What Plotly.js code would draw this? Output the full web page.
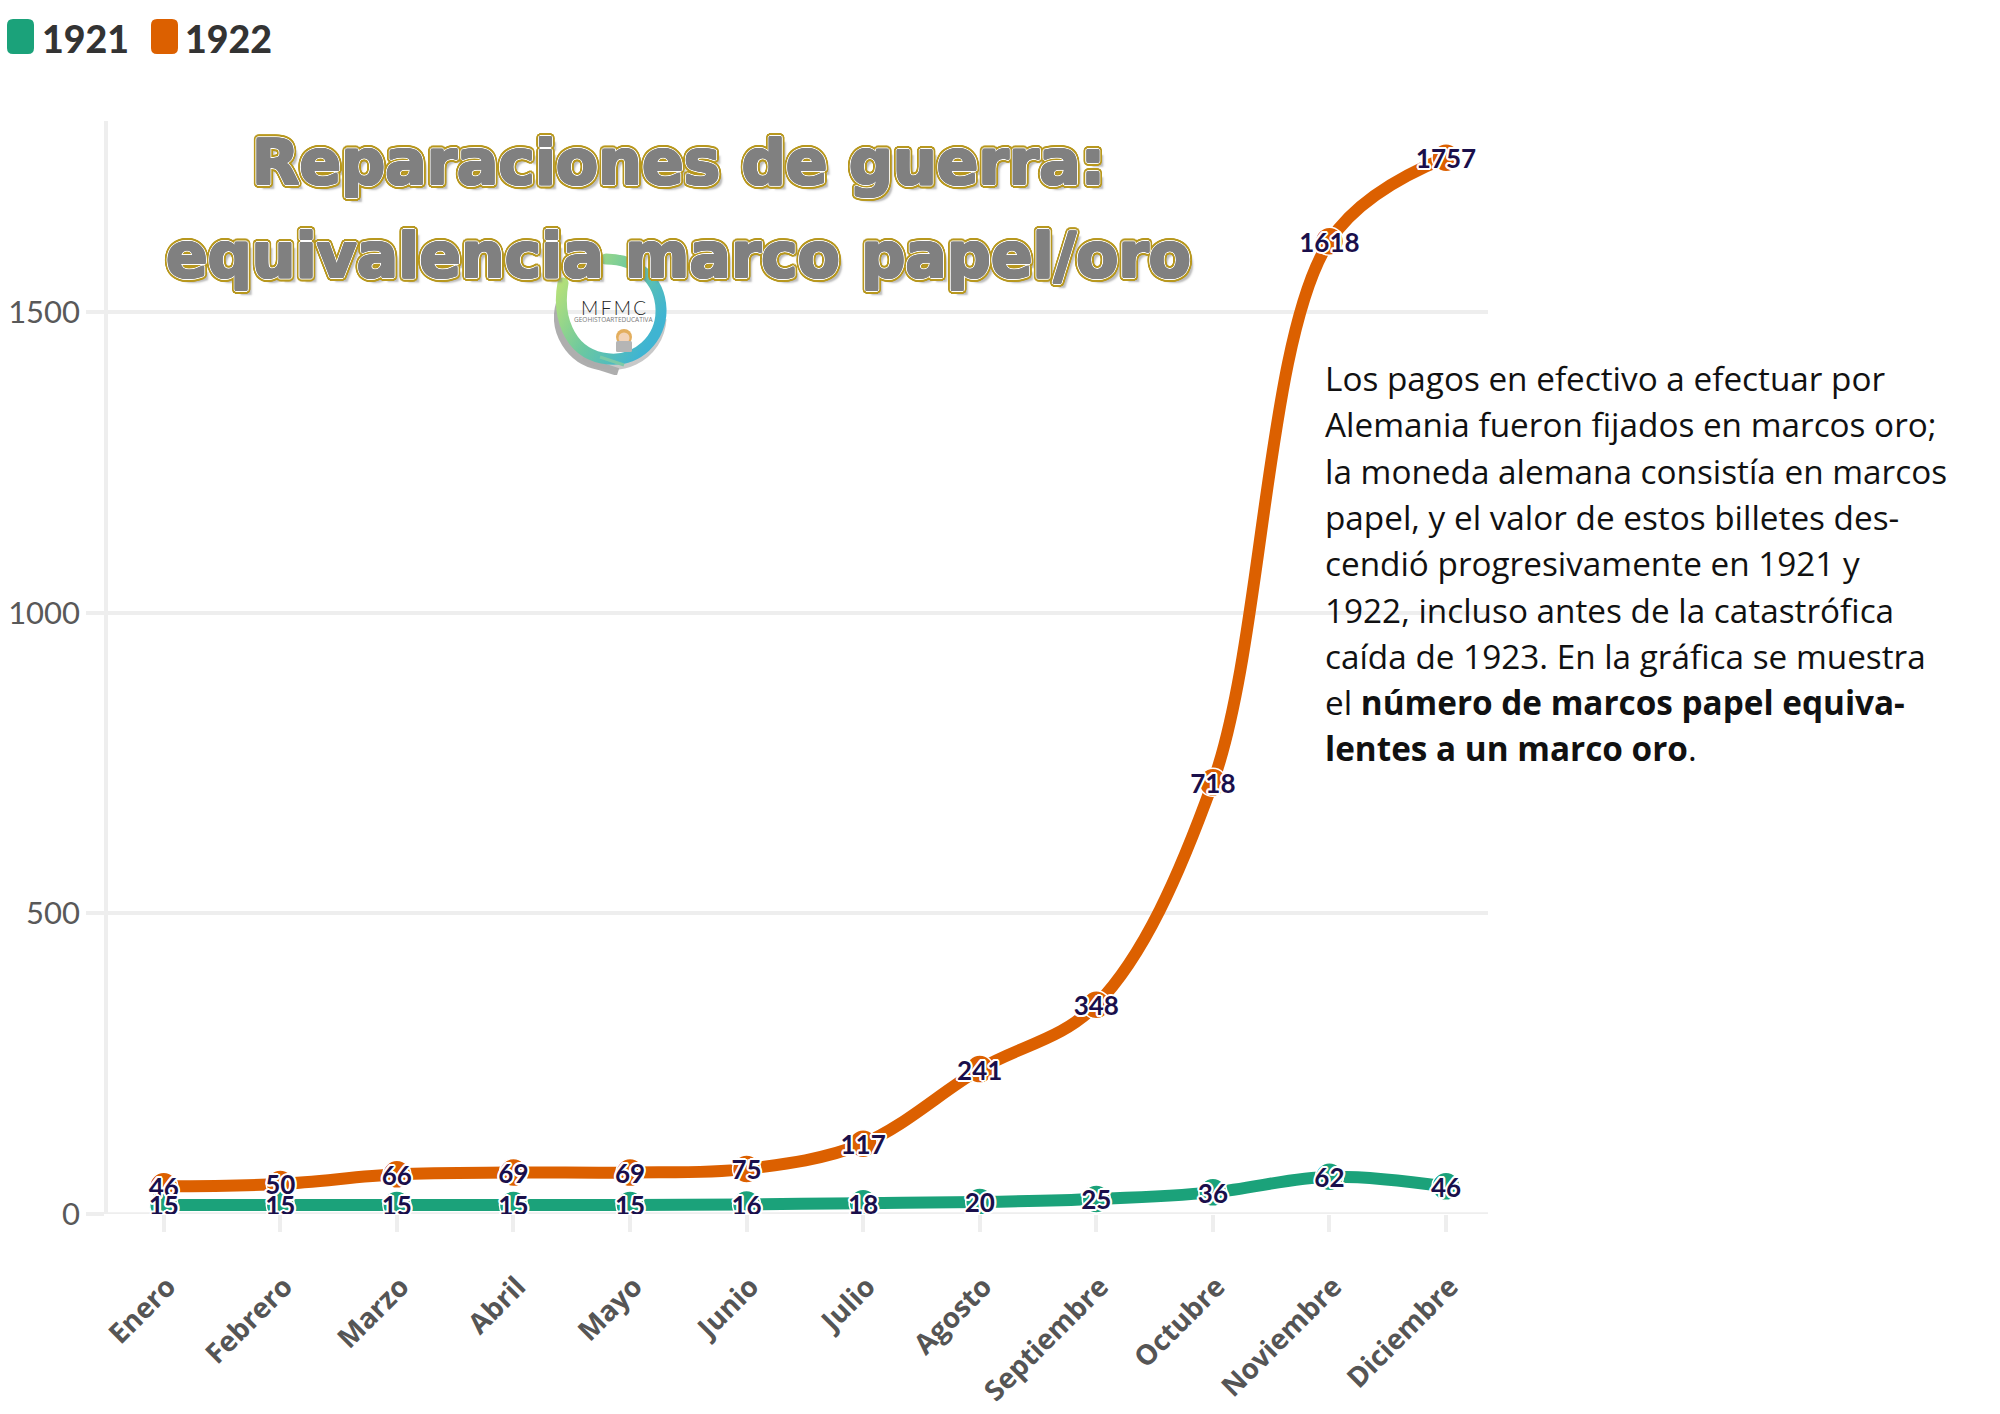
<!DOCTYPE html>
<html>
<head>
<meta charset="utf-8">
<script src="https://cdn.plot.ly/plotly-3.0.1.min.js"></script>
<style>html,body{margin:0;padding:0;background:#fff}#c{width:2000px;height:1414px}</style>
</head>
<body>
<div id="c"></div>
<script>
const months = ["Enero","Febrero","Marzo","Abril","Mayo","Junio","Julio","Agosto","Septiembre","Octubre","Noviembre","Diciembre"];
const values1921 = [15,15,15,15,15,16,18,20,25,36,62,46];
const values1922 = [46,50,66,69,69,75,117,241,348,718,1618,1757];
const seriesNames = ["1921","1922"];
const seriesColors = ["#1ba27a","#dc6000"];
const yTicks = [0,500,1000,1500];
const titleLines = ["Reparaciones de guerra:","equivalencia marco papel/oro"];
const bodyLines = [
  "Los pagos en efectivo a efectuar por",
  "Alemania fueron fijados en marcos oro;",
  "la moneda alemana consistía en marcos",
  "papel, y el valor de estos billetes des-",
  "cendió progresivamente en 1921 y",
  "1922, incluso antes de la catastrófica",
  "caída de 1923. En la gráfica se muestra",
  "el <b>número de marcos papel equiva-</b>",
  "<b>lentes a un marco oro</b>."
];

const W=2000,H=1414,L=108,R=1488,T=121,B=1214;
const px=x=>(x-L)/(R-L), py=y=>(B-y)/(B-T);

function ring(r,color,n){
  const a=[];
  for(let i=0;i<n;i++){const t=2*Math.PI*i/n;a.push((r*Math.cos(t)).toFixed(2)+"px "+(r*Math.sin(t)).toFixed(2)+"px 0 "+color);}
  return a;
}
const titleShadow=[].concat(ring(1.1,"#808080",10),ring(1.9,"#ffffff",14),ring(3,"#b8981f",20),ring(3.7,"#b8981f",24),["5px 5px 2px rgba(120,120,120,.5)"]).join(",");
const labelShadow=ring(2,"#ffffff",12).join(",");

function trace(name,vals,color){
  return {type:"scatter",mode:"lines+markers",name:name,x:months,y:vals,
    line:{color:color,width:12,shape:"spline",smoothing:1},
    marker:{color:color,size:28,line:{color:"#ffffff",width:1.5}},
    hoverinfo:"x+y"};
}
function labels(name,vals){
  return {type:"scatter",mode:"text",name:name,x:months,y:vals,
    text:vals.map(String),textposition:"middle center",
    textfont:{family:"Lato",size:26,weight:700,color:"#1a0f4b",shadow:labelShadow},
    hoverinfo:"skip"};
}

const annotations=[];
function note(text,x,y,o){
  annotations.push(Object.assign({text:text,xref:"paper",yref:"paper",x:px(x),y:py(y),showarrow:false,xanchor:"left",yanchor:"middle",align:"left",borderpad:0,font:{}},o));
}
bodyLines.forEach((s,i)=>note(s,1324,378+i*46.3,{font:{family:"Open Sans",size:33.3,color:"#111111"}}));
note(seriesNames[0],41,38,{font:{family:"Lato",size:37.5,weight:900,color:"#333333"}});
note(seriesNames[1],184,38,{font:{family:"Lato",size:37.5,weight:900,color:"#333333"}});
note("M\u2009F\u2009M\u2009C",613,307,{xanchor:"center",font:{family:"Lato",size:19,weight:300,color:"#222222"}});
note("GEOHISTOARTEDUCATIVA",613,319,{xanchor:"center",font:{family:"Open Sans",size:6.5,color:"#777777"}});
note(titleLines[0],678,163,{xanchor:"center",font:{family:"DejaVu Sans",size:61.5,weight:700,color:"#808080",shadow:titleShadow}});
note(titleLines[1],678,256,{xanchor:"center",font:{family:"DejaVu Sans",size:61.5,weight:700,color:"#808080",shadow:titleShadow}});

function swatch(x,y,w,h,r,color){
  const p=(a,b)=>px(a)+","+py(b);
  return {type:"path",xref:"paper",yref:"paper",fillcolor:color,line:{width:0},
    path:"M"+p(x+r,y)+" L"+p(x+w-r,y)+" Q"+p(x+w,y)+" "+p(x+w,y+r)+" L"+p(x+w,y+h-r)+" Q"+p(x+w,y+h)+" "+p(x+w-r,y+h)+" L"+p(x+r,y+h)+" Q"+p(x,y+h)+" "+p(x,y+h-r)+" L"+p(x,y+r)+" Q"+p(x,y)+" "+p(x+r,y)+" Z"};
}

const logoSvg=`<svg xmlns="http://www.w3.org/2000/svg" width="228" height="244" viewBox="0 0 114 122">
<defs><linearGradient id="g" x1="0.05" y1="0.15" x2="0.95" y2="0.7"><stop offset="0" stop-color="#b4e07a"/><stop offset="0.5" stop-color="#6cc8a0"/><stop offset="1" stop-color="#3fb4d2"/></linearGradient></defs>
<path d="M6 50 A50 50 0 0 0 45 113 L64 119" fill="none" stroke="#9a9a9a" stroke-width="8" opacity=".8"/>
<path d="M30 104 A50 50 0 0 0 109 66" fill="none" stroke="#aaaaaa" stroke-width="7" opacity=".65"/>
<path d="M9 30 C3 62 14 98 48 105 C84 112 108 84 107 56 C106 28 84 6 52 6" fill="none" stroke="url(#g)" stroke-width="11" stroke-linecap="round"/>
<path d="M46 104 L70 112" stroke="#7ccaa8" stroke-width="3" fill="none"/>
<circle cx="70" cy="84" r="8" fill="#e3ae5e"/><circle cx="70" cy="85" r="5.5" fill="#f2d3b8"/>
<rect x="62" y="88" width="16" height="11" rx="1.5" fill="#b5b5b5"/>
</svg>`;
const logoSrc="data:image/svg+xml;charset=utf-8,"+encodeURIComponent(logoSvg);

const layout={
  width:W,height:H,paper_bgcolor:"#ffffff",plot_bgcolor:"#ffffff",showlegend:false,
  margin:{l:L,r:W-R,t:T,b:H-B,pad:0},
  font:{family:"Lato"},
  xaxis:{type:"category",categoryorder:"array",categoryarray:months,range:[-0.478,11.36],fixedrange:true,
    showgrid:false,zeroline:false,showline:false,ticks:"outside",ticklen:17,tickwidth:3.5,tickcolor:"#eeeeee",
    tickangle:-45,ticklabelstandoff:27,ticklabelshift:4,tickfont:{family:"Open Sans",size:28,weight:700,color:"#555555"}},
  yaxis:{range:[0,1818],tickmode:"array",tickvals:yTicks,ticktext:yTicks.map(String),fixedrange:true,
    showgrid:true,gridcolor:"#eeeeee",gridwidth:3.5,zeroline:false,showline:true,linecolor:"#eeeeee",linewidth:3.5,
    ticks:"outside",ticklen:18,tickwidth:3.5,tickcolor:"#eeeeee",
    tickfont:{family:"Lato",size:31,color:"#595959"}},
  shapes:[swatch(7,19,27,35,6,seriesColors[0]),swatch(151,19,27,35,6,seriesColors[1]),
    {type:"line",xref:"paper",yref:"y",x0:0,x1:1,y0:0,y1:0,layer:"below",line:{color:"#eeeeee",width:3.5}}],
  images:[{source:logoSrc,xref:"paper",yref:"paper",x:px(554),y:py(253),sizex:114/(R-L),sizey:122/(B-T),xanchor:"left",yanchor:"top",sizing:"stretch",layer:"above"}],
  annotations:annotations
};
Plotly.newPlot("c",[
  trace(seriesNames[1],values1922,seriesColors[1]),
  trace(seriesNames[0],values1921,seriesColors[0]),
  labels(seriesNames[1],values1922),
  labels(seriesNames[0],values1921)
],layout,{displayModeBar:false,responsive:false}).then(gd=>{
  gd.querySelectorAll(".textpoint text").forEach(t=>t.setAttribute("dy","4"));
});
</script>
</body>
</html>
